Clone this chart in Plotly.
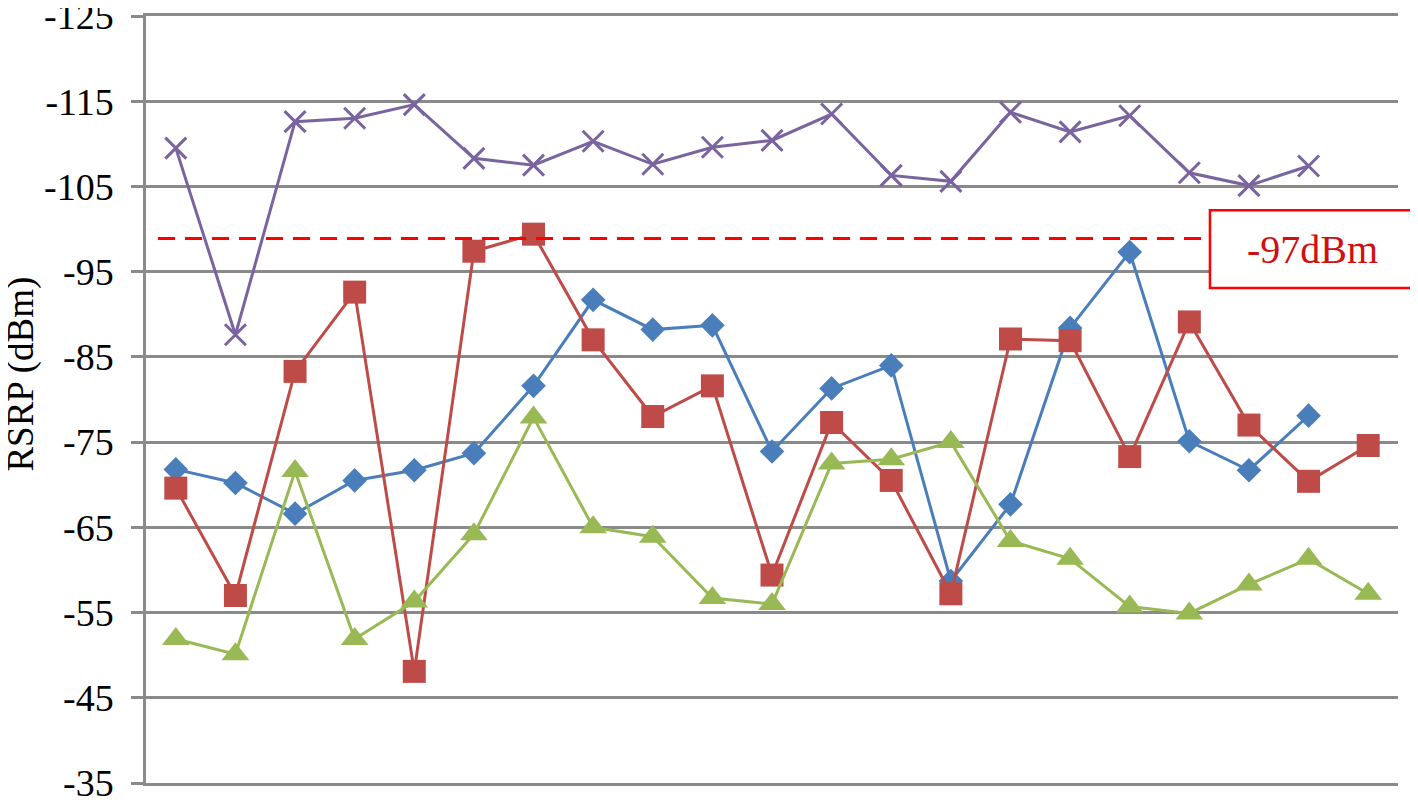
import plotly.graph_objects as go

# measurement points (no labels shown on the x axis)
points = list(range(1, 22))

rsrp_blue = [-71.8, -70.2, -66.6, -70.5, -71.7, -73.7, -81.6, -91.7, -88.2, -88.7,
             -73.9, -81.3, -84.0, -58.7, -67.7, -88.4, -97.3, -75.1, -71.7, -78.1]
rsrp_red = [-69.6, -57.0, -83.3, -92.6, -48.1, -97.4, -99.4, -87.0, -78.0, -81.6,
            -59.4, -77.3, -70.5, -57.2, -87.1, -86.9, -73.3, -89.1, -77.0, -70.4, -74.6]
rsrp_green = [-51.9, -50.1, -71.6, -51.9, -56.3, -64.2, -77.9, -65.0, -63.9, -56.7,
              -56.0, -72.5, -73.0, -75.0, -63.4, -61.3, -55.7, -54.9, -58.3, -61.3, -57.2]
rsrp_purple = [-109.5, -87.6, -112.6, -113.0, -114.6, -108.3, -107.5, -110.3, -107.6, -109.6,
               -110.4, -113.5, -106.3, -105.6, -113.7, -111.4, -113.3, -106.6, -105.1, -107.4]

threshold_line = -98.9
threshold_label = "-97dBm"
y_ticks = [-125, -115, -105, -95, -85, -75, -65, -55, -45, -35]
y_tick_text = ["-125", "-115", "-105", "-95", "-85", "-75", "-65", "-55", "-45", "-35"]

serif = "Liberation Serif, Times New Roman, serif"
grid_gray = "#8A8A8A"

fig = go.Figure()

fig.add_trace(go.Scatter(
    x=points[:len(rsrp_purple)], y=rsrp_purple, mode="lines+markers",
    line=dict(color="#7A64A0", width=3),
    marker=dict(symbol="x-thin", size=21, line=dict(color="#7A64A0", width=3))
))
fig.add_trace(go.Scatter(
    x=points[:len(rsrp_blue)], y=rsrp_blue, mode="lines+markers",
    line=dict(color="#4A7EBB", width=3),
    marker=dict(symbol="diamond", size=19, color="#4A7EBB")
))
fig.add_trace(go.Scatter(
    x=points, y=rsrp_red, mode="lines+markers",
    line=dict(color="#BE4B48", width=3),
    marker=dict(symbol="square", size=23, color="#BE4B48")
))
fig.add_trace(go.Scatter(
    x=points, y=rsrp_green, mode="lines+markers",
    line=dict(color="#98B954", width=3),
    marker=dict(symbol="triangle-up", size=24, color="#98B954")
))

# -97dBm reference line and its label box
fig.add_shape(type="line", xref="paper", yref="y",
              x0=0.0096, x1=0.8498, y0=threshold_line, y1=threshold_line,
              line=dict(color="#FF0000", width=3, dash="17px,10px"))
fig.add_shape(type="rect", xref="paper", yref="paper",
              x0=0.8498, x1=1.0136, y0=0.6455, y1=0.7468,
              line=dict(color="#FF0000", width=2.5), fillcolor="white")
fig.add_annotation(xref="paper", yref="paper", x=0.9317, y=0.696,
                   xanchor="center", yanchor="middle",
                   text=threshold_label, showarrow=False,
                   font=dict(family=serif, size=40, color="#D01010"))

# y axis title
fig.add_annotation(xref="paper", yref="paper", x=-0.0998, y=0.5325,
                   xanchor="center", yanchor="middle", textangle=-90,
                   text="RSRP (dBm)", showarrow=False,
                   font=dict(family=serif, size=37, color="black"))

# page body adds an 8px offset, so margins are shifted to compensate
fig.update_layout(
    width=1418, height=800,
    margin=dict(l=138, r=28, t=5, b=25),
    paper_bgcolor="white", plot_bgcolor="white",
    showlegend=False,
    font=dict(family=serif, color="black"),
)
fig.update_xaxes(
    range=[0.5, 21.5], showticklabels=False, showgrid=False, zeroline=False,
    showline=True, mirror=True, linecolor=grid_gray, linewidth=2.5,
)
fig.update_yaxes(
    range=[-35, -125], autorange=False, tickvals=y_ticks, ticktext=y_tick_text,
    zeroline=False, automargin=False, ticklabeloverflow="allow",
    showgrid=True, gridcolor=grid_gray, gridwidth=2.5,
    showline=True, linecolor=grid_gray, linewidth=2.5,
    ticks="outside", ticklen=12, tickcolor=grid_gray, tickwidth=2.5,
    tickfont=dict(family=serif, size=38, color="black"),
    ticklabelstandoff=10,
)

fig.write_html("out.html")
